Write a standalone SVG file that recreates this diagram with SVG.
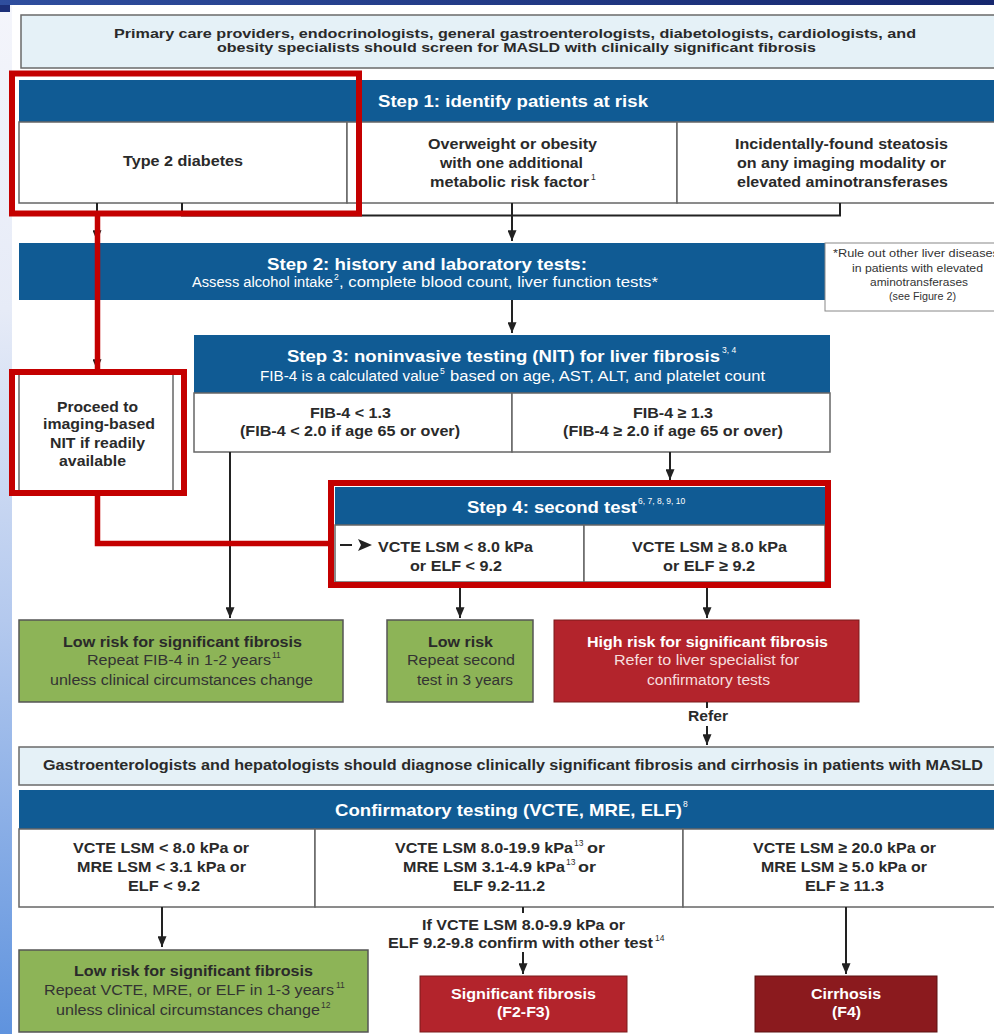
<svg xmlns="http://www.w3.org/2000/svg" width="994" height="1034" viewBox="0 0 994 1034">
<defs>
<linearGradient id="strip" x1="0" y1="0" x2="0" y2="1">
<stop offset="0" stop-color="#f4f5fb"/>
<stop offset="0.3" stop-color="#e6ebf7"/>
<stop offset="0.6" stop-color="#b4c9ee"/>
<stop offset="1" stop-color="#5f93de"/>
</linearGradient>
<linearGradient id="topbar" x1="0" y1="0" x2="1" y2="0">
<stop offset="0" stop-color="#2f4e9e"/>
<stop offset="1" stop-color="#16276e"/>
</linearGradient>
<marker id="ah" viewBox="0 0 12 10" refX="12" refY="5" markerWidth="11" markerHeight="9" markerUnits="userSpaceOnUse" orient="auto">
<path d="M0 0 L12 5 L0 10 Z" fill="#222"/>
</marker>
<style>
.hdr{fill:#105b94}
.box{fill:#fff;stroke:#666;stroke-width:1.5}
.lb{fill:#e5f1f7;stroke:#6a6a6a;stroke-width:1.5}
.grn{fill:#8db457;stroke:#555;stroke-width:1.5}
.rd{fill:#b3242c;stroke:#7a1a1a;stroke-width:1}
.drd{fill:#8b1a1e;stroke:#5a1010;stroke-width:1}
.hl{fill:none;stroke:#c40000;stroke-width:6}
.hlc{fill:none;stroke:#c40000;stroke-width:5.5}
.cn{fill:none;stroke:#222;stroke-width:2}
text{font-family:"Liberation Sans",Arial,sans-serif}
.b{font-weight:bold}
.w{fill:#fff}
.d{fill:#2a2a2a}
.g{fill:#333}
.f13{font-size:13.5px}
.f17{font-size:17px}
.f15{font-size:15px}
.f14{font-size:14px}
.f10{font-size:10.5px}
.sup{font-size:8.5px}
</style>
</defs>

<rect x="0" y="0" width="994" height="1034" fill="#fff"/>
<rect x="0" y="0" width="12" height="1034" fill="url(#strip)"/>
<rect x="0" y="0" width="994" height="5" fill="url(#topbar)"/>
<rect x="0" y="5" width="10" height="7" fill="#1c2f78"/>

<g id="screen-note">
<rect class="lb" x="21" y="15" width="985" height="53"/>
<text class="b d f13" x="114" y="38" textLength="802" lengthAdjust="spacingAndGlyphs">Primary care providers, endocrinologists, general gastroenterologists, diabetologists, cardiologists, and</text>
<text class="b d f13" x="217" y="52" textLength="599" lengthAdjust="spacingAndGlyphs">obesity specialists should screen for MASLD with clinically significant fibrosis</text>
</g>

<g id="step1">
<rect class="hdr" x="19" y="80" width="985" height="42"/>
<text class="b w f17" x="378" y="107" textLength="270" lengthAdjust="spacingAndGlyphs">Step 1: identify patients at risk</text>
<rect class="box" x="19" y="122" width="328" height="81"/>
<rect class="box" x="347" y="122" width="330" height="81"/>
<rect class="box" x="677" y="122" width="330" height="81"/>
</g>
<g id="type2">
<text class="b d f15" x="123" y="166" textLength="120" lengthAdjust="spacingAndGlyphs">Type 2 diabetes</text>
</g>
<g id="overweight">
<text class="b d f15" x="428" y="149" textLength="169" lengthAdjust="spacingAndGlyphs">Overweight or obesity</text>
<text class="b d f15" x="440" y="168" textLength="143" lengthAdjust="spacingAndGlyphs">with one additional</text>
<text class="b d f15" x="430" y="187" textLength="159" lengthAdjust="spacingAndGlyphs">metabolic risk factor</text>
<text class="d sup" x="591" y="180">1</text>
</g>
<g id="steatosis">
<text class="b d f15" x="735" y="149" textLength="213" lengthAdjust="spacingAndGlyphs">Incidentally-found steatosis</text>
<text class="b d f15" x="737" y="168" textLength="209" lengthAdjust="spacingAndGlyphs">on any imaging modality or</text>
<text class="b d f15" x="737" y="187" textLength="211" lengthAdjust="spacingAndGlyphs">elevated aminotransferases</text>
</g>

<g id="step2">
<rect class="hdr" x="19" y="243" width="811" height="57"/>
<text class="b w f17" x="267" y="270" textLength="320" lengthAdjust="spacingAndGlyphs">Step 2: history and laboratory tests:</text>
<text class="w f14" x="192" y="287" textLength="141" lengthAdjust="spacingAndGlyphs">Assess alcohol intake</text>
<text class="w sup" x="334" y="280">2</text>
<text class="w f14" x="339" y="287" textLength="319" lengthAdjust="spacingAndGlyphs">, complete blood count, liver function tests*</text>
</g>

<g id="rule-out-note">
<rect class="box" x="825" y="243" width="180" height="68" style="stroke:#888;stroke-width:1"/>
<text class="g f10" x="833" y="257" textLength="166" lengthAdjust="spacingAndGlyphs">*Rule out other liver diseases</text>
<text class="g f10" x="852" y="272" textLength="131" lengthAdjust="spacingAndGlyphs">in patients with elevated</text>
<text class="g f10" x="870" y="286" textLength="98" lengthAdjust="spacingAndGlyphs">aminotransferases</text>
<text class="g f10" x="889" y="300" textLength="67" lengthAdjust="spacingAndGlyphs">(see Figure 2)</text>
</g>

<g id="step3">
<rect class="hdr" x="194" y="335" width="636" height="58"/>
<text class="b w f17" x="287" y="362" textLength="433" lengthAdjust="spacingAndGlyphs">Step 3: noninvasive testing (NIT) for liver fibrosis</text>
<text class="w sup" x="722" y="353">3, 4</text>
<text class="w f14" x="260" y="381" textLength="179" lengthAdjust="spacingAndGlyphs">FIB-4 is a calculated value</text>
<text class="w sup" x="440" y="374">5</text>
<text class="w f14" x="450" y="381" textLength="315" lengthAdjust="spacingAndGlyphs">based on age, AST, ALT, and platelet count</text>
<rect class="box" x="194" y="393" width="318" height="59"/>
<rect class="box" x="512" y="393" width="318" height="59"/>
</g>
<g id="fib-low">
<text class="b d f15" x="310" y="418" textLength="81" lengthAdjust="spacingAndGlyphs">FIB-4 &lt; 1.3</text>
<text class="b d f15" x="240" y="436" textLength="220" lengthAdjust="spacingAndGlyphs">(FIB-4 &lt; 2.0 if age 65 or over)</text>
</g>
<g id="fib-high">
<text class="b d f15" x="633" y="418" textLength="80" lengthAdjust="spacingAndGlyphs">FIB-4 ≥ 1.3</text>
<text class="b d f15" x="563" y="436" textLength="220" lengthAdjust="spacingAndGlyphs">(FIB-4 ≥ 2.0 if age 65 or over)</text>
</g>

<g id="proceed-imaging">
<rect class="box" x="19" y="372" width="154" height="120"/>
<text class="b d f15" x="57" y="412" textLength="81" lengthAdjust="spacingAndGlyphs">Proceed to</text>
<text class="b d f15" x="43" y="429" textLength="112" lengthAdjust="spacingAndGlyphs">imaging-based</text>
<text class="b d f15" x="50" y="448" textLength="95" lengthAdjust="spacingAndGlyphs">NIT if readily</text>
<text class="b d f15" x="59" y="466" textLength="67" lengthAdjust="spacingAndGlyphs">available</text>
</g>

<g id="step4">
<rect class="hdr" x="335" y="487" width="490" height="38"/>
<text class="b w f17" x="467" y="513" textLength="170" lengthAdjust="spacingAndGlyphs">Step 4: second test</text>
<text class="w sup" x="638" y="504">6, 7, 8, 9, 10</text>
<rect class="box" x="335" y="525" width="249" height="57"/>
<rect class="box" x="584" y="525" width="241" height="57"/>
</g>
<g id="vcte-low">
<text class="b d f15" x="378" y="552" textLength="155" lengthAdjust="spacingAndGlyphs">VCTE LSM &lt; 8.0 kPa</text>
<text class="b d f15" x="410" y="571" textLength="92" lengthAdjust="spacingAndGlyphs">or ELF &lt; 9.2</text>
</g>
<g id="vcte-high">
<text class="b d f15" x="632" y="552" textLength="155" lengthAdjust="spacingAndGlyphs">VCTE LSM ≥ 8.0 kPa</text>
<text class="b d f15" x="663" y="571" textLength="92" lengthAdjust="spacingAndGlyphs">or ELF ≥ 9.2</text>
</g>

<g id="low-risk-fib4">
<rect class="grn" x="19" y="620" width="324" height="82"/>
<text class="b d f15" x="63" y="647" textLength="239" lengthAdjust="spacingAndGlyphs">Low risk for significant fibrosis</text>
<text class="g f14" x="87" y="665" textLength="184" lengthAdjust="spacingAndGlyphs">Repeat FIB-4 in 1-2 years</text>
<text class="g sup" x="272" y="658">11</text>
<text class="g f14" x="50" y="685" textLength="263" lengthAdjust="spacingAndGlyphs">unless clinical circumstances change</text>
</g>
<g id="low-risk-second">
<rect class="grn" x="387" y="620" width="146" height="82"/>
<text class="b d f15" x="428" y="647" textLength="65" lengthAdjust="spacingAndGlyphs">Low risk</text>
<text class="g f14" x="407" y="665" textLength="108" lengthAdjust="spacingAndGlyphs">Repeat second</text>
<text class="g f14" x="417" y="685" textLength="96" lengthAdjust="spacingAndGlyphs">test in 3 years</text>
</g>
<g id="high-risk">
<rect class="rd" x="554" y="620" width="305" height="82"/>
<text class="b w f15" x="587" y="647" textLength="241" lengthAdjust="spacingAndGlyphs">High risk for significant fibrosis</text>
<text class="f14" fill="#f6dede" x="614" y="665" textLength="185" lengthAdjust="spacingAndGlyphs">Refer to liver specialist for</text>
<text class="f14" fill="#f6dede" x="647" y="685" textLength="123" lengthAdjust="spacingAndGlyphs">confirmatory tests</text>
</g>

<g id="diagnose-note">
<rect class="lb" x="19" y="747" width="987" height="38"/>
<text class="b d f14" x="43" y="770" textLength="940" lengthAdjust="spacingAndGlyphs">Gastroenterologists and hepatologists should diagnose clinically significant fibrosis and cirrhosis in patients with MASLD</text>
</g>

<g id="confirmatory">
<rect class="hdr" x="19" y="790" width="987" height="39"/>
<text class="b w f17" x="335" y="816" textLength="347" lengthAdjust="spacingAndGlyphs">Confirmatory testing (VCTE, MRE, ELF)</text>
<text class="w sup" x="683" y="807">8</text>
<rect class="box" x="19" y="829" width="296" height="78"/>
<rect class="box" x="315" y="829" width="368" height="78"/>
<rect class="box" x="683" y="829" width="323" height="78"/>
</g>
<g id="conf-low">
<text class="b d f15" x="73" y="853" textLength="176" lengthAdjust="spacingAndGlyphs">VCTE LSM &lt; 8.0 kPa or</text>
<text class="b d f15" x="77" y="872" textLength="169" lengthAdjust="spacingAndGlyphs">MRE LSM &lt; 3.1 kPa or</text>
<text class="b d f15" x="128" y="891" textLength="72" lengthAdjust="spacingAndGlyphs">ELF &lt; 9.2</text>
</g>
<g id="conf-mid">
<text class="b d f15" x="395" y="853" textLength="178" lengthAdjust="spacingAndGlyphs">VCTE LSM 8.0-19.9 kPa</text>
<text class="d sup" x="574" y="846">13</text>
<text class="b d f15" x="587" y="853" textLength="18" lengthAdjust="spacingAndGlyphs">or</text>
<text class="b d f15" x="403" y="872" textLength="162" lengthAdjust="spacingAndGlyphs">MRE LSM 3.1-4.9 kPa</text>
<text class="d sup" x="566" y="865">13</text>
<text class="b d f15" x="578" y="872" textLength="18" lengthAdjust="spacingAndGlyphs">or</text>
<text class="b d f15" x="453" y="891" textLength="92" lengthAdjust="spacingAndGlyphs">ELF 9.2-11.2</text>
</g>
<g id="conf-high">
<text class="b d f15" x="753" y="853" textLength="183" lengthAdjust="spacingAndGlyphs">VCTE LSM ≥ 20.0 kPa or</text>
<text class="b d f15" x="761" y="872" textLength="166" lengthAdjust="spacingAndGlyphs">MRE LSM ≥ 5.0 kPa or</text>
<text class="b d f15" x="805" y="891" textLength="79" lengthAdjust="spacingAndGlyphs">ELF ≥ 11.3</text>
</g>

<g id="low-risk-confirm">
<rect class="grn" x="19" y="950" width="349" height="82"/>
<text class="b d f15" x="74" y="976" textLength="239" lengthAdjust="spacingAndGlyphs">Low risk for significant fibrosis</text>
<text class="g f14" x="44" y="995" textLength="290" lengthAdjust="spacingAndGlyphs">Repeat VCTE, MRE, or ELF in 1-3 years</text>
<text class="g sup" x="336" y="988">11</text>
<text class="g f14" x="56" y="1015" textLength="264" lengthAdjust="spacingAndGlyphs">unless clinical circumstances change</text>
<text class="g sup" x="321" y="1008">12</text>
</g>
<g id="significant-fibrosis">
<rect class="rd" x="420" y="976" width="207" height="56"/>
<text class="b w f15" x="451" y="999" textLength="145" lengthAdjust="spacingAndGlyphs">Significant fibrosis</text>
<text class="b w f15" x="497" y="1017" textLength="53" lengthAdjust="spacingAndGlyphs">(F2-F3)</text>
</g>
<g id="cirrhosis">
<rect class="drd" x="755" y="976" width="182" height="56"/>
<text class="b w f15" x="811" y="999" textLength="70" lengthAdjust="spacingAndGlyphs">Cirrhosis</text>
<text class="b w f15" x="832" y="1017" textLength="29" lengthAdjust="spacingAndGlyphs">(F4)</text>
</g>

<g id="connectors">
<path class="cn" d="M182 203 V215.5 H840 V203"/>
<path class="cn" d="M512 203 V241" marker-end="url(#ah)"/>
<path class="cn" d="M97 203 V241" marker-end="url(#ah)"/>
<path class="cn" d="M97 300 V370" marker-end="url(#ah)"/>
<path class="cn" d="M512 300 V333" marker-end="url(#ah)"/>
<path class="cn" d="M230 452 V618" marker-end="url(#ah)"/>
<path class="cn" d="M670 452 V480" marker-end="url(#ah)"/>
<path class="cn" d="M460 588 V618" marker-end="url(#ah)"/>
<path class="cn" d="M707 588 V618" marker-end="url(#ah)"/>
<path class="cn" d="M707 702 V708"/>
<text class="b d f15" x="688" y="721" textLength="40" lengthAdjust="spacingAndGlyphs">Refer</text>
<path class="cn" d="M707 726 V745" marker-end="url(#ah)"/>
<path class="cn" d="M162 907 V947" marker-end="url(#ah)"/>
<path class="cn" d="M523 907 V913"/>
<text class="b d f15" x="422" y="930" textLength="203" lengthAdjust="spacingAndGlyphs">If VCTE LSM 8.0-9.9 kPa or</text>
<text class="b d f15" x="388" y="948" textLength="265" lengthAdjust="spacingAndGlyphs">ELF 9.2-9.8 confirm with other test</text>
<text class="d sup" x="655" y="941">14</text>
<path class="cn" d="M523 952 V974" marker-end="url(#ah)"/>
<path class="cn" d="M846 907 V974" marker-end="url(#ah)"/>
<path class="cn" d="M340 545 H352"/>
<path d="M358 539 L372 545 L358 551 L361 545 Z" fill="#222"/>
</g>

<g id="highlights">
<rect class="hl" x="12" y="73.5" width="347" height="140"/>
<rect class="hl" x="12" y="372" width="172" height="121"/>
<rect class="hl" x="331" y="483" width="497" height="102"/>
<path class="hlc" d="M97.5 214 V372"/>
<path class="hlc" d="M97.5 493 V543.5 H331"/>
</g>
</svg>
